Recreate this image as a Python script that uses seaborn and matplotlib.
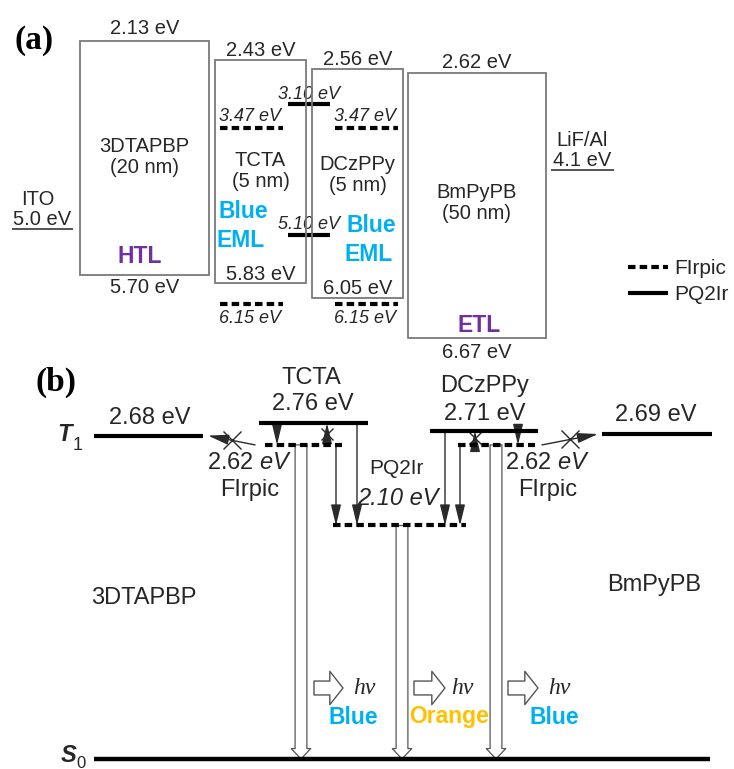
import matplotlib
matplotlib.use("Agg")
import matplotlib.pyplot as plt
import pandas as pd
import seaborn as sns
from matplotlib.patches import Rectangle
from matplotlib.lines import Line2D
from matplotlib.transforms import offset_copy

# ---------------- data ----------------
layers = ["3DTAPBP", "TCTA", "DCzPPy", "BmPyPB"]
thickness = ["(20 nm)", "(5 nm)", "(5 nm)", "(50 nm)"]
lumo = [2.13, 2.43, 2.56, 2.62]          # eV
homo = [5.70, 5.83, 6.05, 6.67]          # eV
electrodes = ["ITO", "LiF/Al"]
work_function = [5.0, 4.1]               # eV
dopants = ["FIrpic", "PQ2Ir"]
dopant_lumo = [3.47, 3.10]               # eV
dopant_homo = [6.15, 5.10]               # eV
host_t1 = [2.68, 2.76, 2.71, 2.69]       # triplet energies of the layers, eV
dopant_t1 = [2.62, 2.10]                 # FIrpic, PQ2Ir triplet energies, eV
emission = ["Blue", "Orange", "Blue"]

# ---------------- layout (pixels) ----------------
W, H = 734, 769
PT = 0.72                                # points per pixel at 100 dpi
SPLIT = 355                              # pixel row dividing the two panels
box_left = [80, 215, 312, 408]
box_right = [209, 306, 403, 546]
firpic_a_x = [(220, 283), (335, 398)]
pq2ir_a_x = [(288, 330)]
t1_x = [(94, 203), (259, 368), (430, 538), (602, 712)]
firpic_b_x = [(265, 342), (458, 535)]
pq2ir_b_x = (333, 466)
s0_x = (94, 710)

TXT = "#262626"
EDGE = "#7a7a7a"
ARW = "#2a2a2a"
PURPLE = "#7030A0"
CYAN = "#00B0F0"
ORANGE = "#FFC000"
DASH = (1.8, 1.0)
FS_A = 14.5

sns.set_theme(style="white")
plt.rcParams["font.family"] = ["Liberation Sans", "DejaVu Sans"]
plt.rcParams["mathtext.fontset"] = "custom"
plt.rcParams["mathtext.rm"] = "Liberation Sans"
plt.rcParams["mathtext.it"] = "Liberation Sans:italic"
plt.rcParams["mathtext.bf"] = "Liberation Sans:bold"

fig = plt.figure(figsize=(W / 100, H / 100), dpi=100)
fig.patch.set_facecolor("white")
ax_a = fig.add_axes([0, (H - SPLIT) / H, 1, SPLIT / H])
ax_b = fig.add_axes([0, 0, 1, (H - SPLIT) / H])


def note(ax, x, y, s, dy=0.0, dx=0.0, trans=None, **kw):
    """Text anchored at a data point, shifted by dx/dy pixels (dy > 0 is down)."""
    kw.setdefault("ha", "center")
    kw.setdefault("va", "center")
    kw.setdefault("fontsize", FS_A)
    kw.setdefault("color", TXT)
    ax.annotate(s, (x, y), xycoords=trans if trans is not None else "data",
                xytext=(dx * PT, -dy * PT), textcoords="offset points",
                annotation_clip=False, **kw)


# ======================= (a) energy levels =======================
for i, name in enumerate(layers):
    ax_a.add_patch(Rectangle((box_left[i], lumo[i]), box_right[i] - box_left[i],
                             homo[i] - lumo[i], fill=False, ec=EDGE, lw=1.3,
                             zorder=4))

rows = []
seg = 0
for (x0, x1) in firpic_a_x:
    for e in (dopant_lumo[0], dopant_homo[0]):
        rows += [dict(seg=seg, x=x0, E=e, kind="FIrpic"),
                 dict(seg=seg, x=x1, E=e, kind="FIrpic")]
        seg += 1
for (x0, x1) in pq2ir_a_x:
    for e in (dopant_lumo[1], dopant_homo[1]):
        rows += [dict(seg=seg, x=x0, E=e, kind="PQ2Ir"),
                 dict(seg=seg, x=x1, E=e, kind="PQ2Ir")]
        seg += 1
lv_a = pd.DataFrame(rows)
sns.lineplot(data=lv_a, x="x", y="E", units="seg", estimator=None, sort=False,
             style="kind", dashes={"FIrpic": DASH, "PQ2Ir": ""},
             color="black", lw=3, solid_capstyle="butt", legend=False,
             ax=ax_a, zorder=3)

# box labels
cx = [(l + r) / 2 for l, r in zip(box_left, box_right)]
lumo_dy = [-12, -10, -9, -10]
homo_dy = [13, -9, -9, 14]
name_shift = [0, 0, -8, -2]
for i in range(4):
    note(ax_a, cx[i], lumo[i], f"{lumo[i]:.2f} eV", lumo_dy[i])
    note(ax_a, cx[i], homo[i], f"{homo[i]:.2f} eV", homo_dy[i])
    mid = (lumo[i] + homo[i]) / 2
    note(ax_a, cx[i], mid, layers[i], name_shift[i] - 11)
    note(ax_a, cx[i], mid, thickness[i], name_shift[i] + 10)

note(ax_a, 140, homo[0], "HTL", -18, fontsize=16.5, fontweight="bold", color=PURPLE)
note(ax_a, 479, homo[3], "ETL", -13, fontsize=16.5, fontweight="bold", color=PURPLE)
for bx_l, i in ((219, 1), (346, 2)):
    note(ax_a, bx_l, homo[i], "Blue", -72, ha="left", fontsize=16.5,
         fontweight="bold", color=CYAN)
    note(ax_a, bx_l - 2, homo[i], "EML", -43, ha="left", fontsize=16.5,
         fontweight="bold", color=CYAN)

# dopant level labels
for (x0, x1), lx in zip(firpic_a_x, (250, 365)):
    note(ax_a, lx, dopant_lumo[0], f"{dopant_lumo[0]:.2f} eV", -12,
         fontsize=13, style="italic")
    note(ax_a, lx, dopant_homo[0], f"{dopant_homo[0]:.2f} eV", 14,
         fontsize=13, style="italic")
for (x0, x1) in pq2ir_a_x:
    xm = (x0 + x1) / 2
    note(ax_a, xm, dopant_lumo[1], f"{dopant_lumo[1]:.2f} eV", -10,
         fontsize=13, style="italic")
    note(ax_a, xm, dopant_homo[1], f"{dopant_homo[1]:.2f} eV", -11,
         fontsize=13, style="italic")

# electrodes
el_x = [(12, 73), (551, 614)]
for (x0, x1), name, wf in zip(el_x, electrodes, work_function):
    ax_a.hlines(wf, x0, x1, color=TXT, lw=1.1)
    xm = (x0 + x1) / 2
    note(ax_a, xm, wf, f"{wf:.1f} eV", -9)
    note(ax_a, xm - (5 if name == "ITO" else 0), wf, name, -29)

# legend for the dopant levels
handles = [Line2D([], [], color="black", lw=3, dashes=DASH),
           Line2D([], [], color="black", lw=3, solid_capstyle="butt")]
ax_a.legend(handles, dopants, loc="upper left",
            bbox_to_anchor=(628 / W, 1 - 259 / H), bbox_transform=fig.transFigure,
            frameon=False, borderpad=0, borderaxespad=0, handlelength=1.9,
            handletextpad=0.3, labelspacing=0.35, fontsize=15,
            labelcolor=TXT)

ax_a.set_xlim(0, W)
ax_a.set_ylim(6.927, 1.511)
ax_a.axis("off")

# ======================= (b) triplet energies =======================
rows = []
seg = 0
for (x0, x1), e in zip(t1_x, host_t1):
    rows += [dict(seg=seg, x=x0, E=e, kind="host"), dict(seg=seg, x=x1, E=e, kind="host")]
    seg += 1
for (x0, x1) in firpic_b_x:
    rows += [dict(seg=seg, x=x0, E=dopant_t1[0], kind="dopant"),
             dict(seg=seg, x=x1, E=dopant_t1[0], kind="dopant")]
    seg += 1
rows += [dict(seg=seg, x=pq2ir_b_x[0], E=dopant_t1[1], kind="dopant"),
         dict(seg=seg, x=pq2ir_b_x[1], E=dopant_t1[1], kind="dopant")]
lv_b = pd.DataFrame(rows)
sns.lineplot(data=lv_b, x="x", y="E", units="seg", estimator=None, sort=False,
             style="kind", dashes={"host": "", "dopant": DASH},
             color="black", lw=3, solid_capstyle="butt", legend=False,
             ax=ax_b, zorder=3)

bx = ax_b.get_xaxis_transform()          # x in data, y in axes fraction
S0_FRAC = (H - 759) / (H - SPLIT)
ax_b.plot(s0_x, [S0_FRAC, S0_FRAC], transform=bx, color="black", lw=3.2,
          solid_capstyle="butt", zorder=3)

# level labels
t1_lx = [150, 313, 485, 656]
t1_dy = [-18, -19, -17, -19]
for i in range(4):
    note(ax_b, t1_lx[i], host_t1[i], f"{host_t1[i]:.2f} eV", t1_dy[i], fontsize=17)
note(ax_b, 311, host_t1[1], layers[1], -45, fontsize=17)
note(ax_b, 485, host_t1[2], layers[2], -45, fontsize=17)
for lx in (250, 548):
    note(ax_b, lx, dopant_t1[0], f"{dopant_t1[0]:.2f} $\\mathit{{eV}}$", 18, fontsize=17)
    note(ax_b, lx, dopant_t1[0], dopants[0], 45, fontsize=17)
note(ax_b, 396, dopant_t1[1], dopants[1], -57, fontsize=15)
note(ax_b, 398, dopant_t1[1], f"{dopant_t1[1]:.2f} eV", -27, fontsize=17, style="italic")
note(ax_b, 144, (H - 598) / (H - SPLIT), layers[0], trans=bx, fontsize=17)
note(ax_b, 654, (H - 585) / (H - SPLIT), layers[3], trans=bx, fontsize=17)

# state labels
note(ax_b, 65, host_t1[0], "T", -1, fontsize=17, fontweight="bold", style="italic")
note(ax_b, 78, host_t1[0], "1", 10, fontsize=13)
note(ax_b, 69, S0_FRAC, "S", -4, trans=bx, fontsize=17, fontweight="bold", style="italic")
note(ax_b, 81, S0_FRAC, "0", 4, trans=bx, fontsize=12)


def transfer(x0, e0, x1, e1, cross=False, ms=9):
    ax_b.annotate("", xy=(x1, e1), xytext=(x0, e0),
                  arrowprops=dict(arrowstyle="-|>,head_length=0.7,head_width=0.17",
                                  mutation_scale=18, lw=1.0, color=ARW,
                                  shrinkA=0, shrinkB=0), zorder=2)
    if cross:
        ax_b.plot([(x0 + x1) / 2], [(e0 + e1) / 2], marker="x", ms=ms, mew=1.0,
                  color=ARW, zorder=2)


# TCTA / FIrpic / PQ2Ir transfers
transfer(277, host_t1[1], 277, dopant_t1[0])
transfer(327, dopant_t1[0], 327, host_t1[1], cross=True)
transfer(336, dopant_t1[0], 336, dopant_t1[1])
transfer(357, host_t1[1], 357, dopant_t1[1])
transfer(255, dopant_t1[0], 208, host_t1[0], cross=True, ms=13)
# DCzPPy side
transfer(518, host_t1[2], 518, dopant_t1[0])
transfer(475, dopant_t1[0], 475, host_t1[2], cross=True)
transfer(460, dopant_t1[0], 460, dopant_t1[1])
transfer(445, host_t1[2], 445, dopant_t1[1])
transfer(542, dopant_t1[0], 598, host_t1[3], cross=True, ms=13)

# radiative decay to the ground state
for x, e in ((301, dopant_t1[0]), (402, dopant_t1[1]), (496, dopant_t1[0])):
    ax_b.annotate("", xy=(x, S0_FRAC), xycoords=bx, xytext=(x, e), textcoords="data",
                  arrowprops=dict(arrowstyle="simple,head_length=0.75,head_width=1.4,tail_width=0.85",
                                  mutation_scale=10, fc="white", ec="#555555", lw=0.9,
                                  shrinkA=0, shrinkB=0), zorder=1)

# photon markers
hv_arrows = [(314, 343), (414, 445), (508, 538)]
hv_text_x = [364, 462, 559]
color_x = [353, 449, 554]
color_map = {"Blue": CYAN, "Orange": ORANGE}
t_hv = offset_copy(bx, fig=fig, x=0, y=71, units="dots")
for (x0, x1), hx, cxp, col in zip(hv_arrows, hv_text_x, color_x, emission):
    ax_b.annotate("", xy=(x1, S0_FRAC), xycoords=t_hv, xytext=(x0, S0_FRAC),
                  textcoords=t_hv,
                  arrowprops=dict(arrowstyle="simple,head_length=0.95,head_width=2.4,tail_width=1.0",
                                  mutation_scale=10, fc="white", ec="#555555", lw=1.0,
                                  shrinkA=0, shrinkB=0))
    note(ax_b, hx, S0_FRAC, "hv", -71, trans=bx, fontsize=17, style="italic",
         family="Liberation Serif")
    note(ax_b, cxp, S0_FRAC, col, -42, trans=bx, fontsize=16.5, fontweight="bold",
         color=color_map[col])

ax_b.set_xlim(0, W)
ax_b.set_ylim(0.529, 3.2)
ax_b.axis("off")

# panel tags
fig.text(34 / W, 1 - 40 / H, "(a)", ha="center", va="center", fontsize=24,
         fontweight="bold", family="Liberation Serif", color="black")
fig.text(56 / W, 1 - 382 / H, "(b)", ha="center", va="center", fontsize=24,
         fontweight="bold", family="Liberation Serif", color="black")

fig.savefig("out.png", dpi=100, facecolor="white")
